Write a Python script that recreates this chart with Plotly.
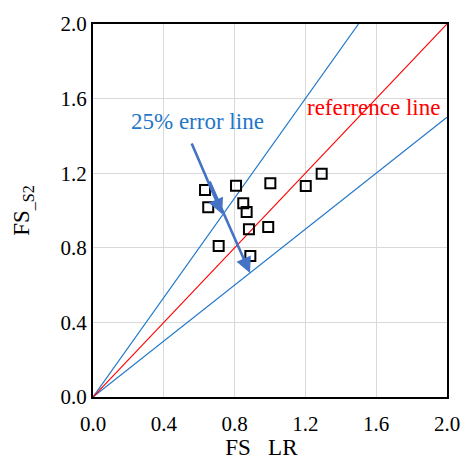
import plotly.graph_objects as go

fs_lr = [0.633, 0.651, 0.808, 1.002, 1.202, 1.292, 0.849, 0.868, 0.881, 0.990, 0.710, 0.889]
fs_s2 = [1.110, 1.017, 1.133, 1.146, 1.131, 1.197, 1.039, 0.992, 0.899, 0.912, 0.810, 0.756]

ref_x = [0.0, 2.0]
ref_y = [0.0, 2.0]
upper_x = [0.0, 1.5]
upper_y = [0.0, 2.0]
lower_x = [0.0, 2.0]
lower_y = [0.0, 1.5]

tick_vals = [0.0, 0.4, 0.8, 1.2, 1.6, 2.0]
tick_text = ["0.0", "0.4", "0.8", "1.2", "1.6", "2.0"]

FONT = "Liberation Serif"

fig = go.Figure()
fig.add_trace(go.Scatter(x=upper_x, y=upper_y, mode="lines",
                         line=dict(color="#1f77c8", width=1.2), showlegend=False))
fig.add_trace(go.Scatter(x=lower_x, y=lower_y, mode="lines",
                         line=dict(color="#1f77c8", width=1.2), showlegend=False))
fig.add_trace(go.Scatter(x=ref_x, y=ref_y, mode="lines",
                         line=dict(color="#ff0000", width=1.2), showlegend=False))
fig.add_trace(go.Scatter(x=fs_lr, y=fs_s2, mode="markers",
                         marker=dict(symbol="square-open", size=10, color="black",
                                     line=dict(width=2, color="black")),
                         showlegend=False))

# arrows
fig.add_annotation(x=0.729, y=0.981, ax=0.554, ay=1.367, xref="x", yref="y",
                   axref="x", ayref="y", showarrow=True, arrowhead=2, arrowsize=1.2,
                   arrowwidth=2.6, arrowcolor="#4472c4", text="")
fig.add_annotation(x=0.887, y=0.665, ax=0.655, ay=1.164, xref="x", yref="y",
                   axref="x", ayref="y", showarrow=True, arrowhead=2, arrowsize=1.2,
                   arrowwidth=2.6, arrowcolor="#4472c4", text="")

fig.add_annotation(x=0.588, y=1.475, xref="x", yref="y", text="25% error line",
                   showarrow=False, font=dict(family=FONT, size=23, color="#1f77c8"))
fig.add_annotation(x=1.582, y=1.55, xref="x", yref="y", text="referrence line",
                   showarrow=False, font=dict(family=FONT, size=23, color="#ff0000"))

axis_common = dict(range=[0, 2.0], tickvals=tick_vals, ticktext=tick_text,
                   showgrid=True, gridcolor="#d9d9d9", gridwidth=1,
                   showline=True, linecolor="black", linewidth=2, mirror=True,
                   ticks="", zeroline=False, automargin=False,
                   tickfont=dict(family=FONT, size=21, color="black"))

fig.update_layout(
    width=461, height=460,
    margin=dict(l=93, r=14, t=24, b=63),
    plot_bgcolor="white", paper_bgcolor="white",
    xaxis=dict(**axis_common, ticklabelstandoff=7,
               title=dict(text="FS&nbsp;&nbsp;&nbsp;LR&nbsp;&nbsp;&nbsp;", standoff=2,
                          font=dict(family=FONT, size=23, color="black"))),
    yaxis=dict(**axis_common,
               title=dict(text="FS<sub>_S2</sub>", standoff=24,
                          font=dict(family=FONT, size=23, color="black"))),
)

fig.write_html("out.html")
